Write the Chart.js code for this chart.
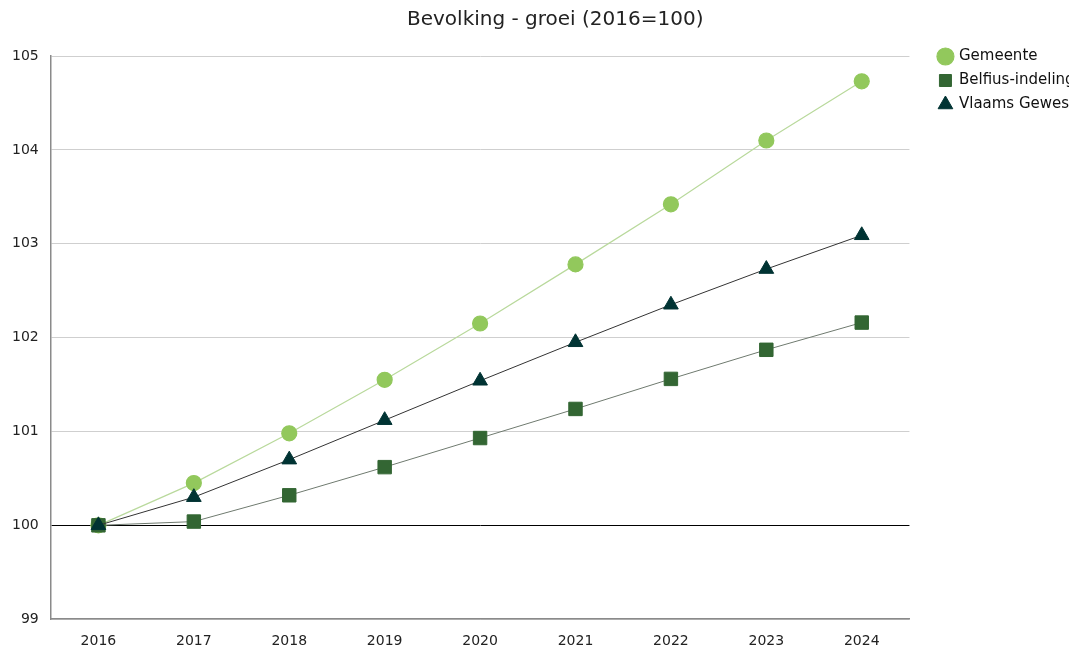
<!DOCTYPE html>
<html>
<head>
<meta charset="utf-8">
<script src="https://cdn.jsdelivr.net/npm/chart.js@4"></script>
<style>
  body { margin: 0; overflow: hidden; background: #fff; }
  #wrap { width: 1085px; height: 654px; }
</style>
</head>
<body>
<div id="wrap"><canvas id="myChart" width="1085" height="654"></canvas></div>
<script>
let jaren = ['2016', '2017', '2018', '2019', '2020', '2021', '2022', '2023', '2024'];

let gemeente = [100, 100.45, 100.98, 101.55, 102.15, 102.78, 103.42, 104.10, 104.73];
let belfius  = [100, 100.04, 100.32, 100.62, 100.93, 101.24, 101.56, 101.87, 102.16];
let vlaams   = [100, 100.30, 100.70, 101.12, 101.54, 101.95, 102.35, 102.73, 103.09];

let yMin = 99;
let yMax = 105;

let ctx = document.getElementById('myChart').getContext('2d');

let datasets = [
  {
    label: 'Gemeente',
    data: gemeente,
    order: 3,
    borderColor: '#b9d99c',
    backgroundColor: '#92c85c',
    pointBackgroundColor: '#92c85c',
    pointBorderColor: '#92c85c',
    pointStyle: 'circle',
    pointRadius: 7.5,
    borderWidth: 1.2
  },
  {
    label: 'Belfius-indeling',
    data: belfius,
    order: 2,
    borderColor: '#6f7a6f',
    backgroundColor: '#336633',
    pointBackgroundColor: '#336633',
    pointBorderColor: '#336633',
    pointStyle: 'rect',
    pointRadius: 9.5,
    borderWidth: 1
  },
  {
    label: 'Vlaams Gewest',
    data: vlaams,
    order: 1,
    borderColor: '#333333',
    backgroundColor: '#003333',
    pointBackgroundColor: '#003333',
    pointBorderColor: '#003333',
    pointStyle: 'triangle',
    pointRadius: 8.5,
    borderWidth: 1
  }
];

let myChart = new Chart(ctx, {
  type: 'line',
  data: { labels: jaren, datasets: datasets },
  options: {
    responsive: false,
    animation: false,
    layout: { padding: { left: 0, right: 0, top: 0, bottom: -10 } },
    plugins: {
      title: {
        display: true,
        text: '    Bevolking - groei (2016=100)',
        color: '#222',
        font: { family: 'DejaVu Sans', size: 20, weight: 'normal' },
        padding: { top: 8, bottom: 24 }
      },
      legend: {
        position: 'right',
        align: 'start',
        title: {
          display: true,
          text: ' ',
          font: { family: 'DejaVu Sans', size: 15 },
          padding: { top: 0, bottom: 22 }
        },
        labels: {
          usePointStyle: true,
          boxHeight: 12,
          boxWidth: 12,
          color: '#111',
          padding: 9,
          font: { family: 'DejaVu Sans', size: 15 },
          sort: (a, b) => a.datasetIndex - b.datasetIndex
        }
      },
      tooltip: { enabled: false }
    },
    scales: {
      x: {
        offset: true,
        grid: { display: false, drawTicks: false },
        border: { color: '#8a8a8a', width: 1.5 },
        ticks: {
          color: '#222',
          padding: 14,
          font: { family: 'DejaVu Sans', size: 14 }
        }
      },
      y: {
        min: yMin,
        max: yMax,
        ticks: {
          stepSize: 1,
          color: '#222',
          padding: 12,
          font: { family: 'DejaVu Sans', size: 14 }
        },
        grid: {
          drawTicks: false,
          color: (c) => c.tick && c.tick.value === 100 ? '#000' : '#cfcfcf',
          lineWidth: 1
        },
        border: { color: '#8a8a8a', width: 1.5 }
      },
      // lege ruimte tussen plot en legende
      ruimte: {
        position: 'right',
        grid: { display: false, drawTicks: false },
        border: { display: false },
        ticks: { display: false },
        afterFit: (s) => { s.width = 21; }
      }
    }
  }
});
</script>
</body>
</html>
